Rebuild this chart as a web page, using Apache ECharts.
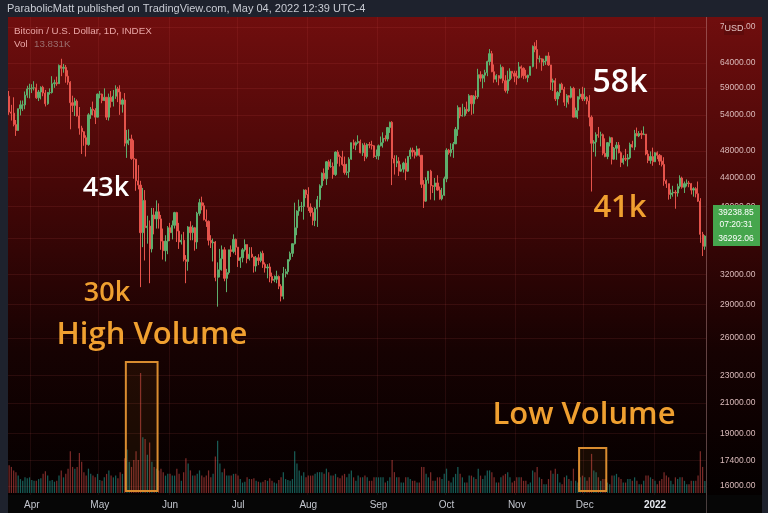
<!DOCTYPE html>
<html>
<head>
<meta charset="utf-8">
<script src="https://cdn.jsdelivr.net/npm/echarts/dist/echarts.min.js"></script>
<style>
  html, body { margin: 0; padding: 0; background: #1e222d; }
  #chart { width: 768px; height: 513px; }
</style>
</head>
<body>
<div id="chart"></div>
<script>
// BTC / USD daily, 2021-03-22 .. 2022-01-23 (prices in thousands USD)
var startDate = '2021-03-22';
var firstOpen = 57.4;

// daily closes, one line per month
var closes = [
  54.5,54.3,52.3,51.3,55.1,55.8,55.8,57.6,58.8,58.9,
  59.0,59.0,57.1,58.2,59.1,58.0,56.0,58.1,58.1,59.8,60.0,59.8,63.5,62.9,63.1,61.3,60.1,56.2,55.7,56.5,53.8,51.7,51.1,50.1,49.0,54.0,55.0,54.8,53.6,57.8,
  57.8,56.6,57.2,53.6,57.2,56.4,57.4,58.8,58.2,55.9,56.7,49.2,49.7,49.9,46.8,46.7,43.5,42.9,36.7,40.8,37.3,37.5,34.8,38.9,38.4,39.3,38.4,35.7,34.6,35.7,37.3,
  36.7,37.6,39.2,36.9,35.6,35.8,33.6,33.4,37.4,36.7,37.3,35.6,39.1,40.5,40.1,38.3,38.1,35.8,35.5,35.6,31.7,32.5,33.7,34.7,31.6,32.2,34.7,34.5,35.9,35.0,
  33.5,33.8,34.7,35.3,33.7,34.2,33.9,32.9,33.8,33.5,34.3,33.1,32.7,32.8,31.8,31.4,31.5,31.8,30.8,29.8,32.1,32.3,33.6,34.3,35.4,37.3,39.4,40.0,40.0,42.2,41.6,
  39.9,39.2,38.2,39.7,40.9,42.8,44.6,43.8,46.3,45.6,45.6,44.4,47.8,47.1,47.0,45.9,44.7,44.8,46.7,49.3,48.9,49.3,49.5,47.7,48.9,47.1,49.0,48.9,48.8,47.1,47.2,
  48.8,49.3,50.0,49.9,51.8,52.7,46.8,46.1,46.4,44.9,45.2,46.1,44.9,47.1,48.1,47.8,47.3,48.3,47.3,43.0,40.7,43.6,44.9,42.8,42.7,43.2,42.2,41.0,41.5,43.8,
  48.1,47.7,48.2,49.1,51.5,55.3,53.8,53.9,55.0,54.7,57.5,56.0,57.4,57.3,61.6,60.9,61.5,62.0,64.3,66.0,62.2,60.7,61.4,60.9,63.1,60.4,58.5,60.6,62.3,61.9,61.3,
  61.0,63.2,62.9,61.4,61.0,61.5,63.3,67.6,66.9,64.9,64.9,64.2,64.4,65.5,63.6,60.1,60.4,56.9,58.1,59.7,58.7,56.3,57.5,57.2,58.9,53.6,54.8,57.3,57.8,56.9,
  57.2,56.5,53.6,49.2,49.4,50.6,50.5,50.6,47.6,47.1,49.3,50.1,46.7,48.4,48.9,47.7,46.2,46.8,46.7,46.9,49.0,48.6,50.8,50.4,50.8,50.6,50.7,47.5,46.5,47.1,46.3,
  47.7,47.3,46.4,45.9,43.5,43.1,41.6,41.8,41.9,41.8,42.7,43.9,42.6,43.1,43.2,43.1,42.2,42.4,41.7,40.7,36.5,35.1,36.3
];

var highs = [
  58.4,55.8,57.2,53.1,55.1,56.6,56.6,58.3,59.4,59.8,
  59.7,60.3,59.8,58.6,59.3,59.4,58.6,58.2,58.9,61.3,60.6,61.2,63.7,64.9,63.8,63.6,62.5,60.3,57.5,57.1,56.8,55.4,52.1,51.2,50.5,54.3,55.4,56.4,55.2,57.9,
  58.4,57.9,58.9,57.1,57.9,58.4,58.6,59.5,59.2,59.5,57.0,58.0,51.4,51.5,50.6,49.7,46.6,45.8,43.5,42.5,42.2,38.8,38.2,39.8,39.8,40.8,40.4,38.9,37.2,36.4,37.5,
  37.9,38.2,39.3,39.3,37.9,36.5,36.8,34.1,37.5,38.1,37.6,37.4,39.3,41.0,41.3,40.5,39.6,38.2,36.4,36.0,35.7,33.3,34.8,35.2,35.0,32.6,34.7,35.2,36.5,36.0,
  35.0,33.9,34.9,35.9,35.3,35.0,35.0,33.9,34.0,34.2,34.5,34.6,33.3,33.1,33.2,32.2,31.9,32.4,31.9,31.0,32.8,32.6,33.6,34.5,35.4,40.5,39.5,40.9,40.6,42.3,42.3,
  42.6,40.4,39.8,39.9,41.4,43.0,44.7,45.3,46.4,46.6,46.7,46.2,47.9,48.1,47.4,48.0,47.1,46.0,47.0,49.3,49.8,49.5,50.5,49.8,49.2,49.3,49.2,49.4,49.6,48.9,48.2,
  49.0,50.3,51.0,50.5,51.9,52.8,52.9,47.3,47.3,47.0,45.9,46.3,46.8,47.2,48.5,48.5,48.1,48.8,48.4,47.3,43.6,44.0,44.9,45.1,42.9,43.9,44.3,42.7,42.5,44.1,
  48.4,48.3,49.2,49.4,51.9,55.7,55.3,56.0,55.4,56.4,57.8,57.6,57.6,58.5,62.8,62.3,61.7,62.6,64.5,67.0,66.6,63.7,61.7,61.5,63.7,63.3,61.5,62.4,62.9,62.2,62.4,
  62.4,64.2,63.5,63.1,62.6,61.6,63.3,67.8,68.5,69.0,65.6,65.0,64.9,65.5,66.3,63.6,60.8,60.9,58.4,59.8,60.0,59.2,57.8,57.6,59.3,59.2,55.3,57.4,58.8,59.2,
  59.0,57.4,57.6,53.9,49.7,51.0,51.9,51.1,50.8,50.0,49.4,50.3,50.2,48.6,49.4,49.4,47.9,47.3,48.3,47.5,49.3,49.6,51.4,51.8,51.2,51.3,52.0,50.7,48.1,47.9,48.5,
  47.8,47.9,47.5,47.3,47.0,43.7,43.1,42.3,42.8,42.2,43.1,44.3,44.1,43.4,43.7,43.5,43.2,42.6,42.6,43.4,41.1,36.8,36.4
];

var lows = [
  54.0,53.0,52.0,50.4,51.3,53.9,54.7,55.0,57.1,57.0,
  58.0,58.5,56.9,56.5,56.8,57.4,55.5,55.8,57.7,57.9,59.0,59.4,59.8,61.3,62.0,60.0,59.6,51.5,54.5,53.8,53.7,50.6,47.5,48.8,47.1,48.8,53.3,53.9,52.4,53.9,
  57.0,56.1,56.5,53.1,53.0,55.3,55.5,56.9,56.3,54.0,54.4,48.7,46.9,48.9,46.6,43.8,42.1,42.3,30.7,35.0,33.5,35.4,31.1,34.4,36.5,37.2,37.2,34.7,33.6,33.4,34.2,
  35.7,35.9,37.2,35.6,34.8,35.3,33.4,31.1,32.4,35.8,35.8,34.6,34.8,38.8,39.5,38.2,37.4,35.2,34.9,33.4,31.3,28.8,31.7,32.4,31.3,30.2,32.0,33.9,34.3,34.1,
  32.8,32.7,33.3,34.5,33.2,33.5,33.8,32.2,32.3,33.0,33.3,32.7,32.2,31.6,31.2,31.1,31.2,31.1,30.5,29.3,29.5,31.7,32.0,33.4,33.9,35.3,36.4,38.8,39.3,38.3,41.1,
  39.4,38.7,37.6,37.5,37.4,39.9,42.5,43.5,42.9,45.1,45.4,43.8,44.2,46.0,45.6,45.7,44.4,44.3,43.9,46.6,48.3,48.1,49.1,47.6,47.2,46.4,46.8,48.4,48.2,46.9,46.7,
  46.6,48.7,48.5,49.5,49.5,50.9,42.9,44.4,45.5,44.2,44.8,44.7,43.6,44.8,46.7,47.1,46.8,47.1,47.1,42.5,39.8,40.6,43.1,40.9,41.8,40.8,42.1,40.9,40.8,41.4,
  43.3,47.4,47.1,46.9,49.1,50.4,53.4,53.7,53.7,54.2,54.5,54.0,54.2,56.8,56.9,60.2,58.9,60.1,61.3,63.5,62.1,60.0,60.1,59.5,60.7,59.9,58.1,57.9,60.3,60.8,60.1,
  59.6,60.8,61.0,60.7,60.8,60.1,61.4,63.1,66.3,62.8,64.1,62.4,63.4,63.6,63.4,58.6,58.4,56.5,55.7,57.4,58.6,55.6,55.3,55.9,57.0,53.6,53.7,53.3,56.8,56.5,
  56.5,55.9,52.0,42.0,47.8,47.1,50.1,48.7,47.3,47.0,46.7,48.7,45.9,46.6,46.6,47.6,45.5,45.9,46.4,45.6,46.7,48.5,48.1,50.4,50.2,49.9,50.6,47.3,46.1,46.0,45.7,
  46.3,46.7,45.8,45.6,42.8,42.5,40.9,41.0,41.3,39.7,41.3,42.4,42.4,41.8,42.7,42.6,41.6,41.3,41.2,40.6,35.5,34.0,34.7
];

// volume, thousands
var volumes = [
  32,30,26,24,20,16,14,18,17,18,
  15,14,14,16,17,22,25,20,14,15,13,14,20,26,18,22,28,48,30,28,30,46,36,24,20,28,22,20,18,22,
  15,14,18,22,26,20,18,20,17,24,22,40,50,36,30,38,48,38,138,64,62,44,58,36,30,28,26,28,24,20,22,
  22,20,20,28,22,14,24,40,34,26,20,20,22,26,20,18,20,26,18,22,42,60,34,24,28,20,20,20,22,22,
  20,16,12,13,18,16,16,17,14,13,12,13,15,14,17,14,12,11,15,18,24,16,15,14,16,48,34,26,20,24,18,
  20,20,20,22,24,24,24,22,28,24,20,20,22,18,17,20,22,18,22,26,18,14,20,18,18,20,18,14,14,18,18,
  18,18,18,12,14,18,38,24,18,18,12,12,18,18,16,14,14,12,12,30,30,22,18,24,14,14,18,18,16,22,
  28,14,12,18,22,30,22,18,12,12,20,20,18,16,28,20,16,20,26,26,24,18,12,12,18,20,22,24,18,12,14,
  18,18,18,14,14,10,12,26,24,30,18,16,10,10,16,26,22,28,22,12,10,18,20,16,14,28,14,12,18,20,
  18,14,18,45,26,24,18,14,16,16,12,10,20,20,22,18,16,12,12,16,16,14,18,14,10,10,14,20,20,18,16,
  14,10,14,16,24,20,18,14,10,18,16,18,18,14,10,10,14,14,14,20,48,30,13.8
];

// price scale labels (thousands)
var priceTicks = [16, 17.4, 19, 21, 23, 26, 29, 32, 36, 40, 44, 48, 54, 59, 64, 72];
var monthNames = ['Jan','Feb','Mar','Apr','May','Jun','Jul','Aug','Sep','Oct','Nov','Dec'];

// boxes drawn round the volume bars: [first day, last day, top of box in volume units]
var highVolBox = ['2021-05-13', '2021-05-26', 150.7];
var lowVolBox = ['2021-11-29', '2021-12-10', 51.8];

if (highs.length !== closes.length || lows.length !== closes.length || volumes.length !== closes.length) {
  throw new Error('length mismatch ' + closes.length + ' ' + highs.length + ' ' + lows.length + ' ' + volumes.length);
}

// dates
var dates = [];
var d0 = new Date(startDate + 'T00:00:00Z');
for (var i = 0; i < closes.length; i++) {
  var d = new Date(d0.getTime() + i * 86400000);
  dates.push(d.toISOString().slice(0, 10));
}

var green = '#5dae6c', red = '#e5534b';
var candles = [], volBars = [];
for (var i = 0; i < closes.length; i++) {
  var o = i === 0 ? firstOpen : closes[i - 1];   // 24h market: open = previous close
  var c = closes[i];
  candles.push([o, c, Math.min(lows[i], o, c), Math.max(highs[i], o, c)]);
  volBars.push({
    value: volumes[i],
    itemStyle: { color: c >= o ? 'rgba(38,166,154,0.55)' : 'rgba(239,83,80,0.5)' }
  });
}

var isMonthStart = function (idx, val) { return val.slice(8) === '01'; };

var myChart = echarts.init(document.getElementById('chart'));

var textEls = [
  // panel background
  {
    type: 'rect', z: -10, silent: true,
    shape: { x: 8, y: 17, width: 754, height: 478 },
    style: {
      fill: new echarts.graphic.LinearGradient(0, 0, 0, 1, [
        { offset: 0, color: '#700e0e' },
        { offset: 0.35, color: '#460707' },
        { offset: 0.7, color: '#160202' },
        { offset: 1, color: '#040000' }
      ])
    }
  },
  { type: 'rect', z: -10, silent: true, shape: { x: 8, y: 495, width: 754, height: 18 }, style: { fill: '#060606' } },
  { type: 'line', z: 50, silent: true, shape: { x1: 706.5, y1: 17, x2: 706.5, y2: 513 }, style: { stroke: 'rgba(200,170,170,0.35)', lineWidth: 1 } },

  // header + legend
  { type: 'text', z: 60, style: { text: 'ParabolicMatt published on TradingView.com, May 04, 2022 12:39 UTC-4', x: 7, y: 9, textVerticalAlign: 'middle', fill: '#c8cbd3', font: '11px "Liberation Sans"' } },
  { type: 'text', z: 60, style: { text: 'Bitcoin / U.S. Dollar, 1D, INDEX', x: 14, y: 31, textVerticalAlign: 'middle', fill: '#eaa6a6', font: '9.8px "Liberation Sans"' } },
  { type: 'text', z: 60, style: { text: 'Vol', x: 14, y: 44, textVerticalAlign: 'middle', fill: '#eaa6a6', font: '9.8px "Liberation Sans"' } },
  { type: 'text', z: 60, style: { text: '13.831K', x: 34, y: 44, textVerticalAlign: 'middle', fill: '#9a6e6e', font: '9.8px "Liberation Sans"' } },

  // USD badge over top label
  { type: 'rect', z: 60, shape: { x: 724, y: 21, width: 20, height: 14 }, style: { fill: '#5e0b0b' } },
  { type: 'text', z: 61, style: { text: 'USD', x: 734, y: 29, textAlign: 'center', textVerticalAlign: 'middle', fill: '#e3c4c4', font: '9px "Liberation Sans"' } },

  // last price box
  { type: 'rect', z: 60, shape: { x: 713, y: 205, width: 47, height: 41 }, style: { fill: '#46a64d' } },
  { type: 'text', z: 61, style: { text: '39238.85', x: 736, y: 213, textAlign: 'center', textVerticalAlign: 'middle', fill: '#ffffff', font: '8.5px "Liberation Sans"' } },
  { type: 'text', z: 61, style: { text: '07:20:31', x: 736, y: 225, textAlign: 'center', textVerticalAlign: 'middle', fill: '#ffffff', font: '8.5px "Liberation Sans"' } },
  { type: 'text', z: 61, style: { text: '36292.06', x: 736, y: 239, textAlign: 'center', textVerticalAlign: 'middle', fill: '#ffffff', font: '8.5px "Liberation Sans"' } },

  // annotations
  { type: 'text', z: 70, style: { text: '43k', x: 106, y: 188, textAlign: 'center', textVerticalAlign: 'middle', fill: '#ffffff', font: '600 27px "Open Sans"' } },
  { type: 'text', z: 70, style: { text: '30k', x: 107, y: 293, textAlign: 'center', textVerticalAlign: 'middle', fill: '#f0a030', font: '600 27px "Open Sans"' } },
  { type: 'text', z: 70, style: { text: 'High Volume', x: 152, y: 335, textAlign: 'center', textVerticalAlign: 'middle', fill: '#f0a030', font: '600 31px "Open Sans"' } },
  { type: 'text', z: 70, style: { text: '58k', x: 620, y: 83, textAlign: 'center', textVerticalAlign: 'middle', fill: '#ffffff', font: '600 32px "Open Sans"' } },
  { type: 'text', z: 70, style: { text: '41k', x: 620, y: 208, textAlign: 'center', textVerticalAlign: 'middle', fill: '#f0a030', font: '600 31px "Open Sans"' } },
  { type: 'text', z: 70, style: { text: 'Low Volume', x: 584, y: 415, textAlign: 'center', textVerticalAlign: 'middle', fill: '#f0a030', font: '600 31px "Open Sans"' } }
];

var option = {
  animation: false,
  backgroundColor: '#1e222d',
  grid: [
    { left: 8, right: 62, top: 17, bottom: 18 },
    { left: 8, right: 62, bottom: 20, height: 160 }
  ],
  xAxis: [
    {
      type: 'category', data: dates, gridIndex: 0,
      axisLine: { show: false }, axisTick: { show: false }, axisLabel: { show: false },
      splitLine: { show: true, interval: isMonthStart, lineStyle: { color: 'rgba(255,110,110,0.09)' } }
    },
    {
      type: 'category', data: dates, gridIndex: 1,
      axisLine: { show: false }, axisTick: { show: false },
      axisLabel: {
        interval: isMonthStart, margin: 7, color: '#c3c6ce', fontSize: 10, fontFamily: 'Liberation Sans',
        formatter: function (val) {
          var m = +val.slice(5, 7);
          return m === 1 ? '{y|' + val.slice(0, 4) + '}' : monthNames[m - 1];
        },
        rich: { y: { color: '#e6e8ee', fontSize: 10, fontWeight: 'bold', fontFamily: 'Liberation Sans' } }
      },
      splitLine: { show: false }
    }
  ],
  yAxis: [
    {
      type: 'log', gridIndex: 0, position: 'right', min: 15.534, max: 74.42,
      axisLine: { show: false }, axisTick: { show: false }, axisLabel: { show: false },
      splitLine: { show: false }
    },
    {
      type: 'value', gridIndex: 1, min: 0, max: 184,
      axisLine: { show: false }, axisTick: { show: false }, axisLabel: { show: false },
      splitLine: { show: false }
    }
  ],
  series: [
    {
      type: 'candlestick', xAxisIndex: 0, yAxisIndex: 0, data: candles,
      barWidth: '75%',
      itemStyle: { color: green, color0: red, borderColor: green, borderColor0: red, borderWidth: 1 },
      markLine: {
        silent: true, symbol: 'none', animation: false,
        lineStyle: { color: 'rgba(255,110,110,0.10)', type: 'solid', width: 1 },
        label: {
          show: true, position: 'end', distance: 14, color: '#dcbcbc', fontSize: 8.5,
          fontFamily: 'Liberation Sans',
          formatter: function (p) { return (p.value * 1000).toFixed(2); }
        },
        data: priceTicks.map(function (v) { return { yAxis: v }; })
      }
    },
    {
      type: 'bar', xAxisIndex: 1, yAxisIndex: 1, data: volBars, barWidth: '55%'
    }
  ],
  graphic: textEls
};

myChart.setOption(option);

// orange boxes round the volume bars, placed through the volume grid's scales
function boxRect(b) {
  var p0 = myChart.convertToPixel({ gridIndex: 1 }, [b[0], 2.3]);
  var p1 = myChart.convertToPixel({ gridIndex: 1 }, [b[1], b[2]]);
  var half = 2.266 / 2;
  return {
    type: 'rect', z: 40, silent: true,
    shape: { x: p0[0] - half, y: p1[1], width: p1[0] - p0[0] + 2 * half, height: p0[1] - p1[1] },
    style: { fill: 'rgba(240,150,40,0.07)', stroke: '#d98c30', lineWidth: 2 }
  };
}
myChart.setOption({ graphic: textEls.concat([boxRect(highVolBox), boxRect(lowVolBox)]) });
</script>
</body>
</html>
